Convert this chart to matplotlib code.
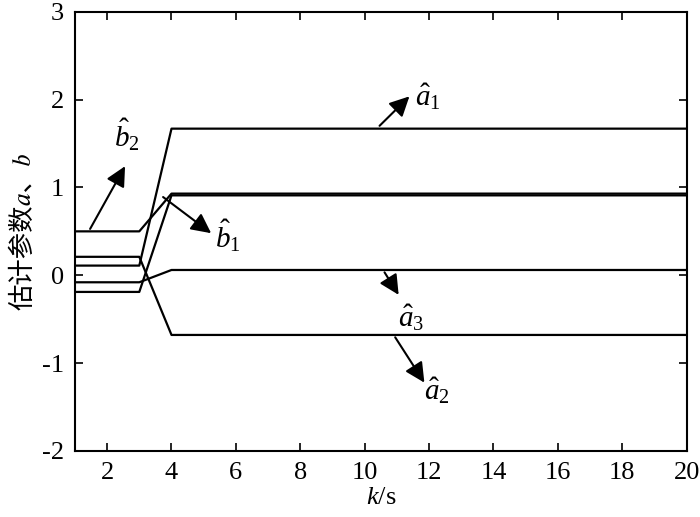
import matplotlib
matplotlib.use("Agg")
import matplotlib.pyplot as plt

plt.rcParams['font.family'] = ['Liberation Serif', 'Noto Sans CJK SC']
plt.rcParams['mathtext.fontset'] = 'custom'
plt.rcParams['mathtext.rm'] = 'Liberation Serif'
plt.rcParams['mathtext.it'] = 'Liberation Serif:italic'
plt.rcParams['axes.unicode_minus'] = False

# estimated parameters over time
k = list(range(1, 21))
a1 = [0.11, 0.11, 0.11] + [1.67] * 17
a2 = [0.21, 0.21, 0.21] + [-0.68] * 17
a3 = [-0.08, -0.08, -0.08] + [0.06] * 17
b1 = [-0.19, -0.19, -0.19] + [0.91] * 17
b2 = [0.5, 0.5, 0.5] + [0.93] * 17

labels = [r'$\hat{a}_1$', r'$\hat{a}_2$', r'$\hat{a}_3$', r'$\hat{b}_1$', r'$\hat{b}_2$']
arrow_tail = [(10.4, 1.68), (10.9, -0.68), (10.57, 0.06), (3.67, 0.91), (1.43, 0.5)]
arrow_head = [(11.45, 2.06), (11.9, -1.25), (11.1, -0.25), (5.3, 0.46), (2.6, 1.27)]
label_pos = [(11.95, 2.03), (12.25, -1.32), (11.45, -0.48), (5.75, 0.45), (2.6, 1.6)]

fig = plt.figure(figsize=(7, 5.17), dpi=100)
ax = fig.add_axes([0.107, 0.128, 0.874, 0.849])

for y in [a1, a2, a3, b1, b2]:
    ax.plot(k, y, color='k', lw=1.6)

for lab, tail, head, pos in zip(labels, arrow_tail, arrow_head, label_pos):
    ax.annotate('', xy=head, xytext=tail,
                arrowprops=dict(arrowstyle='-|>', mutation_scale=30, lw=1.5, color='k'))
    ax.text(pos[0], pos[1], lab, fontsize=21, ha='center', va='center')

ax.set_xlim(1, 20)
ax.set_ylim(-2, 3)
ax.set_xticks(range(2, 21, 2))
ax.set_yticks(range(-2, 4))
ax.tick_params(direction='in', top=True, right=True, length=6, width=1.2,
               labelsize=19, pad=8)
for s in ax.spines.values():
    s.set_linewidth(1.5)

ax.set_xlabel(r'$k$/s', fontsize=19, labelpad=2)
ax.set_ylabel('估计参数\U0001D44E、\U0001D44F', fontsize=19, labelpad=4,
              family=['Noto Sans CJK SC', 'STIXGeneral', 'DejaVu Serif'])

fig.savefig('out.png', dpi=100)
